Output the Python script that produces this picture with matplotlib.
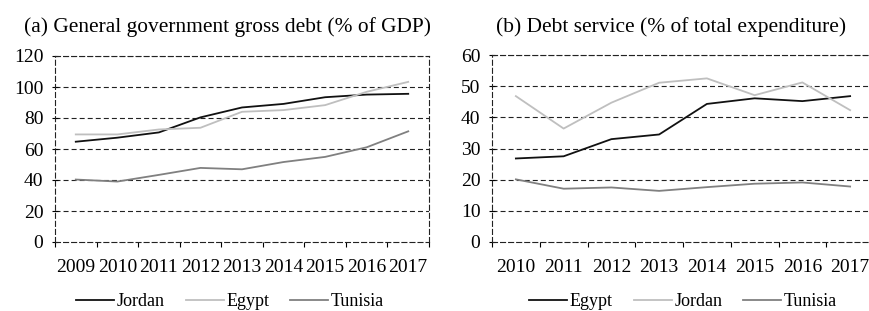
import numpy as np
import matplotlib
matplotlib.use('Agg')
import matplotlib.pyplot as plt
from matplotlib.lines import Line2D

plt.rcParams['font.family'] = ['Liberation Serif', 'DejaVu Serif']
plt.rcParams['lines.scale_dashes'] = False

# panel (a): general government gross debt, % of GDP
years_a = ['2009', '2010', '2011', '2012', '2013', '2014', '2015', '2016', '2017']
debt_jordan = [64.7, 67.3, 70.7, 80.4, 86.8, 89.1, 93.4, 95.1, 95.6]
debt_egypt = [69.4, 69.4, 72.6, 73.7, 84.0, 85.1, 88.3, 96.9, 103.3]
debt_tunisia = [40.3, 39.0, 43.3, 47.8, 46.9, 51.6, 54.9, 61.1, 71.4]

# panel (b): debt service, % of total expenditure
years_b = ['2010', '2011', '2012', '2013', '2014', '2015', '2016', '2017']
serv_egypt = [26.8, 27.5, 33.0, 34.5, 44.3, 46.1, 45.2, 46.8]
serv_jordan = [46.8, 36.4, 44.7, 51.1, 52.5, 47.1, 51.2, 42.3]
serv_tunisia = [20.1, 17.1, 17.5, 16.4, 17.6, 18.7, 19.1, 17.8]

c_black = '#111111'
c_light = '#bfbfbf'
c_mid = '#808080'
dash = (0, (3.6, 2.2))
W, H = 870, 311

fig = plt.figure(figsize=(8.7, 3.11), dpi=100)


def box(l, r, t, b):
    return [l / W, 1 - b / H, (r - l) / W, (b - t) / H]


def style(ax, labels, ymax, ystep):
    n = len(labels)
    ax.set_xlim(-0.5, n - 0.5)
    ax.set_ylim(0, ymax)
    ax.set_xticks(np.arange(n))
    ax.set_xticklabels(labels)
    ax.set_xticks(np.arange(n + 1) - 0.5, minor=True)
    ax.set_yticks(np.arange(0, ymax + 1, ystep))
    ax.tick_params(axis='x', which='major', length=0, pad=12.5, labelsize=14)
    ax.tick_params(axis='x', which='minor', length=3.6, width=0.8, direction='out')
    ax.tick_params(axis='y', length=5, width=0.8, direction='inout', pad=5.8, labelsize=14)
    for v in np.arange(ystep, ymax + 1, ystep):
        ax.axhline(v, color='#222222', lw=0.8, linestyle=dash, zorder=1)
    for s in ax.spines.values():
        s.set_linestyle(dash)
        s.set_linewidth(0.8)
        s.set_color('#222222')


ax1 = fig.add_axes(box(55, 429, 56, 242))
x1 = np.arange(len(years_a))
ax1.plot(x1, debt_jordan, color=c_black, lw=1.3, zorder=3)
ax1.plot(x1, debt_egypt, color=c_light, lw=1.3, zorder=3)
ax1.plot(x1, debt_tunisia, color=c_mid, lw=1.3, zorder=3)
style(ax1, years_a, 120, 20)

ax2 = fig.add_axes(box(492, 874, 55, 242))
x2 = np.arange(len(years_b))
ax2.plot(x2, serv_egypt, color=c_black, lw=1.3, zorder=3)
ax2.plot(x2, serv_jordan, color=c_light, lw=1.3, zorder=3)
ax2.plot(x2, serv_tunisia, color=c_mid, lw=1.3, zorder=3)
style(ax2, years_b, 60, 10)

fig.text(228 / W, 1 - 32 / H, '(a) General government gross debt (% of GDP)',
         ha='center', va='baseline', fontsize=15.4)
fig.text(671 / W, 1 - 32 / H, '(b) Debt service (% of total expenditure)',
         ha='center', va='baseline', fontsize=15.4)


def handles(names, colors):
    return [Line2D([], [], color=c, lw=1.3, label=nm) for nm, c in zip(names, colors)]


leg_kw = dict(loc='center', ncol=3, frameon=False, fontsize=13,
              handlelength=2.1, handletextpad=0.15, columnspacing=1.15)
fig.legend(handles=handles(['Jordan', 'Egypt', 'Tunisia'], [c_black, c_light, c_mid]),
           bbox_to_anchor=(230 / W, 1 - 302 / H), **leg_kw)
fig.legend(handles=handles(['Egypt', 'Jordan', 'Tunisia'], [c_black, c_light, c_mid]),
           bbox_to_anchor=(683 / W, 1 - 302 / H), **leg_kw)

fig.savefig('out.png', dpi=100)
